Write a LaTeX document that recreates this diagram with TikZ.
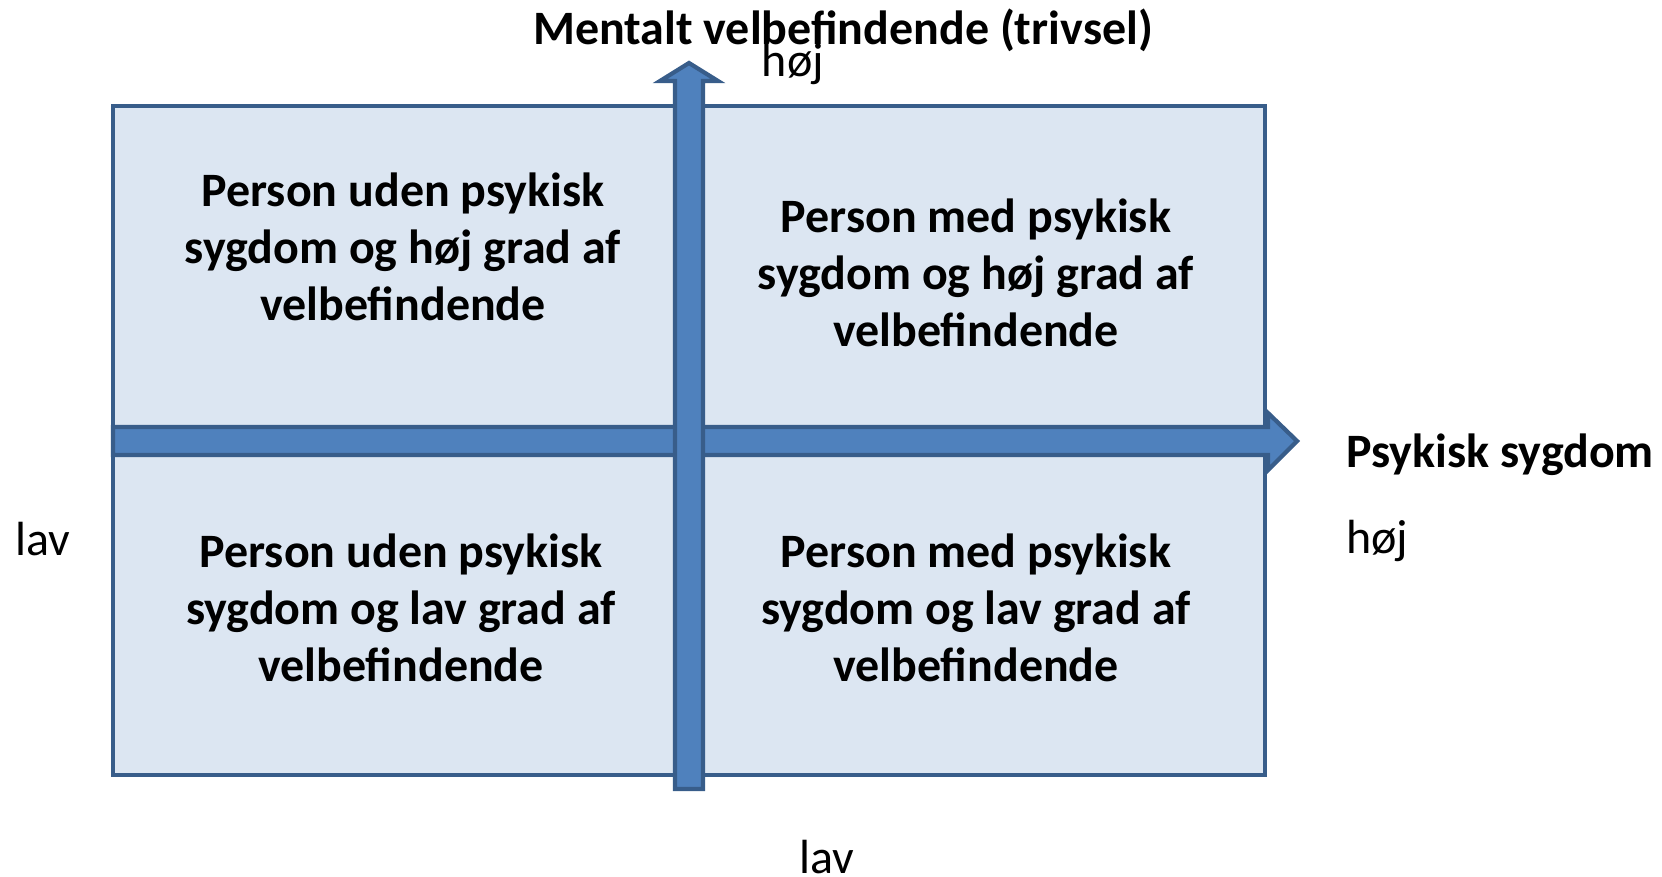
\documentclass[tikz,border=0pt]{standalone}
\usepackage{fontspec}
\setmainfont{Carlito}
\usepackage{xcolor}
\usetikzlibrary{calc}

\definecolor{boxfill}{HTML}{DCE6F2}
\definecolor{boxline}{HTML}{385D8A}
\definecolor{arrowfill}{HTML}{4F81BD}

\tikzset{
	quadtext/.style = {align = center, font = \fontsize{27.3}{32.5}\selectfont\bfseries},
	axislabel/.style = {anchor = base, inner sep = 0pt, font = \fontsize{27.3}{32.5}\selectfont},
	axistitle/.style = {inner sep = 0pt, font = \fontsize{27.3}{32.5}\selectfont\bfseries},
	fatarrow/.style = {fill = arrowfill, draw = boxline, line width = 2.4pt, line join = miter}
}

\begin{document}
\begin{tikzpicture}[x = 0.02cm, y = -0.02cm]
		%variables
		\def\L{113};
		\def\R{1265};
		\def\T{106};
		\def\B{775};
		\def\cx{689};
		\def\cy{441};

		\useasboundingbox (0,0) rectangle (1662,876);

		%box
		\draw [fill = boxfill, draw = boxline, line width = 2.8pt] (\L,\T) rectangle (\R,\B);

		%horizontal axis
		\draw [fatarrow] (\L,{\cy-14}) -- (1268,{\cy-14}) -- (1268,{\cy-28}) -- (1297,\cy)
			-- (1268,{\cy+29}) -- (1268,{\cy+14}) -- (\L,{\cy+14}) -- cycle;

		%vertical axis
		\draw [fatarrow] ({\cx-14},789) -- ({\cx-14},81) -- ({\cx-29},81) -- (\cx,63)
			-- ({\cx+29},81) -- ({\cx+14},81) -- ({\cx+14},789) -- cycle;

		%quadrants
		\node [quadtext] (uhoj) at (403,247) {Person uden psykisk\\sygdom og høj grad af\\velbefindende};
		\node [quadtext] (mhoj) at (976,273) {Person med psykisk\\sygdom og høj grad af\\velbefindende};
		\node [quadtext] (ulav) at (401,608) {Person uden psykisk\\sygdom og lav grad af\\velbefindende};
		\node [quadtext] (mlav) at (976,608) {Person med psykisk\\sygdom og lav grad af\\velbefindende};

		%labels
		\node [axistitle, anchor = base] (trivsel) at (843,44) {Mentalt velbefindende (trivsel)};
		\node [axistitle, anchor = base west] (sygdom) at (1346,467) {Psykisk sygdom};
		\node [axislabel] (tophoj) at (793,76) {høj};
		\node [axislabel] (botlav) at (827,873) {lav};
		\node [axislabel, anchor = base west] (leftlav) at (15,555) {lav};
		\node [axislabel, anchor = base west] (righthoj) at (1346,553) {høj};
	\end{tikzpicture}
\end{document}
